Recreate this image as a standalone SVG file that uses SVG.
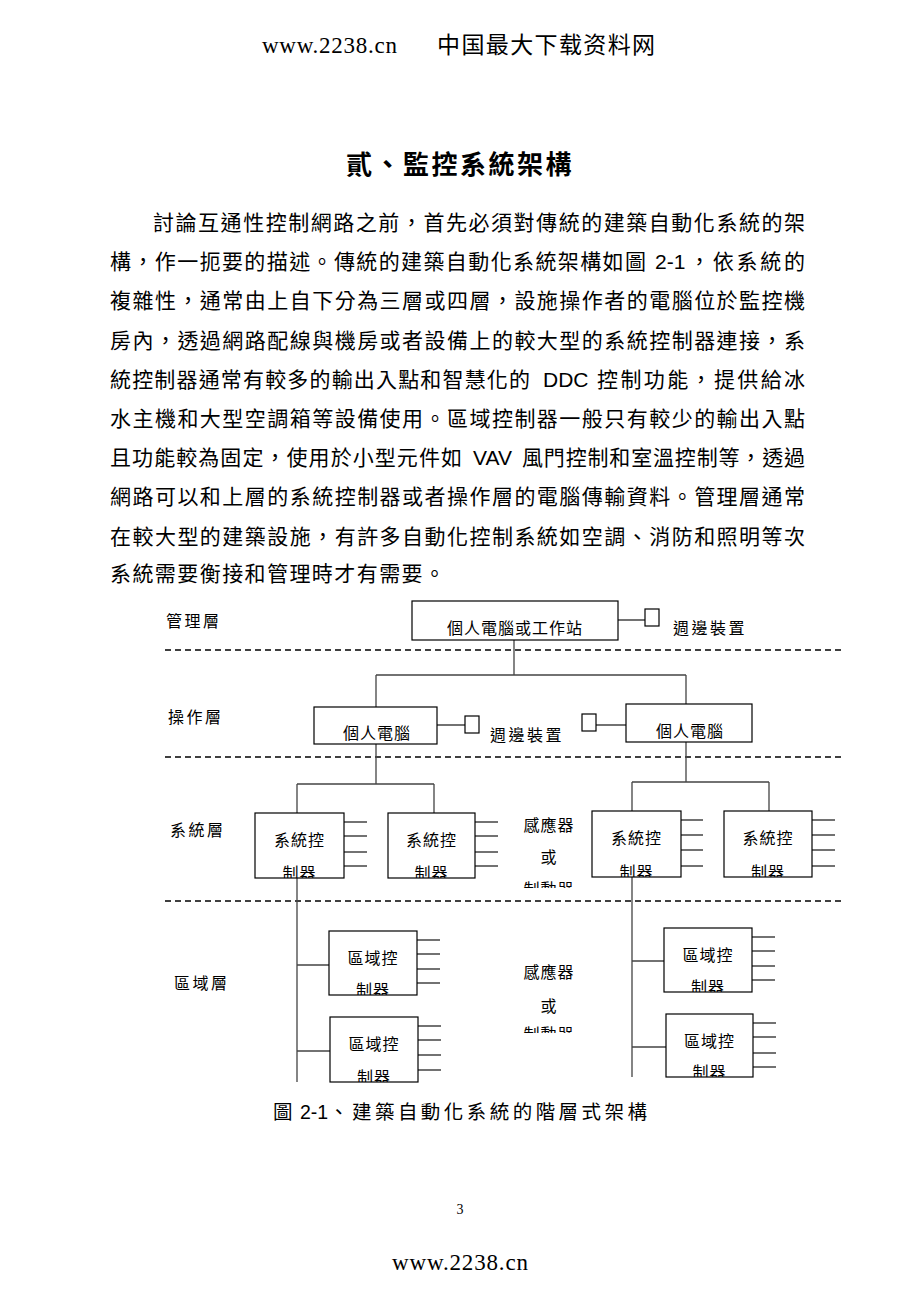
<svg xmlns="http://www.w3.org/2000/svg" width="920" height="1302" viewBox="0 0 920 1302">
<style>
.cjk{font-family:"Liberation Sans","Noto Sans CJK TC","Noto Sans CJK SC",sans-serif;fill:#000}
.p{font-size:21px}
.lbl{font-size:16px;letter-spacing:2.5px}
.bx{font-size:16px;letter-spacing:1px;text-anchor:middle}
.box{fill:#fff;stroke:#000;stroke-width:1.2}
.ln{stroke:#444;stroke-width:1.3;fill:none}
.dash{stroke:#000;stroke-width:1.3;stroke-dasharray:6 4;fill:none}
.sq{fill:#fff;stroke:#000;stroke-width:1.2}
.url{font-family:"Liberation Serif",serif;font-size:23px;fill:#000}
</style>
<rect width="920" height="1302" fill="#fff"/>
<g id="header">
<text x="262" y="53" class="url" textLength="135" lengthAdjust="spacing">www.2238.cn</text>
<text x="437" y="53" font-family="Noto Sans CJK SC,sans-serif" font-size="23" textLength="218" fill="#000">中国最大下载资料网</text>
</g>
<g id="title">
<text x="460" y="174" class="cjk" font-size="26" font-weight="bold" text-anchor="middle" letter-spacing="2.5">貳、監控系統架構</text>
</g>
<g id="paragraph" class="cjk p">
<text x="153" y="230" textLength="652" lengthAdjust="spacing">討論互通性控制網路之前，首先必須對傳統的建築自動化系統的架</text>
<text x="110" y="269.2" textLength="536" lengthAdjust="spacing">構，作一扼要的描述。傳統的建築自動化系統架構如圖</text>
<text x="655" y="269.2">2-1</text>
<text x="689" y="269.2" textLength="116" lengthAdjust="spacing">，依系統的</text>
<text x="110" y="308.4" textLength="695" lengthAdjust="spacing">複雜性，通常由上自下分為三層或四層，設施操作者的電腦位於監控機</text>
<text x="110" y="347.6" textLength="695" lengthAdjust="spacing">房內，透過網路配線與機房或者設備上的較大型的系統控制器連接，系</text>
<text x="110" y="386.8" textLength="420" lengthAdjust="spacing">統控制器通常有較多的輸出入點和智慧化的</text>
<text x="543" y="386.8">DDC</text>
<text x="597" y="386.8" textLength="208" lengthAdjust="spacing">控制功能，提供給冰</text>
<text x="110" y="426" textLength="695" lengthAdjust="spacing">水主機和大型空調箱等設備使用。區域控制器一般只有較少的輸出入點</text>
<text x="110" y="465.2" textLength="352" lengthAdjust="spacing">且功能較為固定，使用於小型元件如</text>
<text x="473" y="465.2">VAV</text>
<text x="522" y="465.2" textLength="283" lengthAdjust="spacing">風門控制和室溫控制等，透過</text>
<text x="110" y="504.4" textLength="695" lengthAdjust="spacing">網路可以和上層的系統控制器或者操作層的電腦傳輸資料。管理層通常</text>
<text x="110" y="543.6" textLength="695" lengthAdjust="spacing">在較大型的建築設施，有許多自動化控制系統如空調、消防和照明等次</text>
<text x="110" y="581" textLength="335" lengthAdjust="spacing">系統需要衡接和管理時才有需要。</text>
</g>
<g id="layers" class="cjk lbl">
<text x="166" y="627">管理層</text>
<text x="168" y="723">操作層</text>
<text x="170" y="836">系統層</text>
<text x="174" y="989">區域層</text>
</g>
<g id="dividers">
<line class="dash" x1="165" y1="650" x2="842" y2="650"/>
<line class="dash" x1="165" y1="757" x2="842" y2="757"/>
<line class="dash" x1="165" y1="901" x2="842" y2="901"/>
</g>
<g id="connectors">
<path class="ln" d="M618 620H645 M514 640V675 M376 675H686 M376 675V707 M686 675V704"/>
<path class="ln" d="M437 725H465 M596 725H626"/>
<path class="ln" d="M376 744V784 M297 784H434 M297 784V813 M434 784V813"/>
<path class="ln" d="M686 742V782 M632 782H769 M632 782V811 M769 782V811"/>
<path class="ln" d="M344 822H367 M344 836H367 M344 852H367 M344 866H367"/>
<path class="ln" d="M475 822H498 M475 836H498 M475 852H498 M475 866H498"/>
<path class="ln" d="M681 820H703 M681 835H703 M681 850H703 M681 866H703"/>
<path class="ln" d="M812 820H835 M812 835H835 M812 850H835 M812 866H835"/>
<path class="ln" d="M297 878V1082 M632 877V1077"/>
<path class="ln" d="M297 965H329 M297 1051H330 M632 961H664 M632 1047H666"/>
<path class="ln" d="M417 940H440 M417 954H440 M417 969H440 M417 983H440"/>
<path class="ln" d="M418 1026H441 M418 1040H441 M418 1055H441 M418 1070H441"/>
<path class="ln" d="M752 937H775 M752 951H775 M752 966H775 M752 980H775"/>
<path class="ln" d="M753 1023H776 M753 1037H776 M753 1053H776 M753 1067H776"/>
</g>
<g id="ws">
<rect class="box" x="412" y="601" width="206" height="39"/>
<text class="cjk bx" x="515" y="634" letter-spacing="2.5">個人電腦或工作站</text>
</g>
<g id="periph1">
<rect class="sq" x="645" y="609" width="14" height="17"/>
<text class="cjk lbl" x="673" y="634">週邊裝置</text>
</g>
<g id="pc1">
<rect class="box" x="314" y="707" width="123" height="37"/>
<text class="cjk bx" x="377" y="739" letter-spacing="2.5">個人電腦</text>
</g>
<g id="periph2">
<rect class="sq" x="465" y="716" width="14" height="17"/>
<text class="cjk lbl" x="490" y="741">週邊裝置</text>
</g>
<g id="periph3">
<rect class="sq" x="582" y="714" width="14" height="17"/>
</g>
<g id="pc2">
<rect class="box" x="626" y="704" width="126" height="38"/>
<text class="cjk bx" x="690" y="737" letter-spacing="2.5">個人電腦</text>
</g>
<g id="sc1">
<rect class="box" x="255" y="813" width="89" height="65"/>
<svg x="255" y="813" width="89" height="65" overflow="hidden">
<text class="cjk bx" x="44.5" y="33">系統控</text>
<text class="cjk bx" x="44.5" y="66">制器</text>
</svg>
</g>
<g id="sc2">
<rect class="box" x="388" y="813" width="87" height="65"/>
<svg x="388" y="813" width="87" height="65" overflow="hidden">
<text class="cjk bx" x="43.5" y="33">系統控</text>
<text class="cjk bx" x="43.5" y="66">制器</text>
</svg>
</g>
<g id="sc3">
<rect class="box" x="592" y="811" width="89" height="66"/>
<svg x="592" y="811" width="89" height="66" overflow="hidden">
<text class="cjk bx" x="44.5" y="33">系統控</text>
<text class="cjk bx" x="44.5" y="67">制器</text>
</svg>
</g>
<g id="sc4">
<rect class="box" x="724" y="811" width="88" height="66"/>
<svg x="724" y="811" width="88" height="66" overflow="hidden">
<text class="cjk bx" x="44" y="33">系統控</text>
<text class="cjk bx" x="44" y="67">制器</text>
</svg>
</g>
<g id="sensor1">
<svg x="500" y="800" width="100" height="88" overflow="hidden">
<text class="cjk bx" x="49" y="31">感應器</text>
<text class="cjk bx" x="49" y="63">或</text>
<text class="cjk bx" x="49" y="95">制動器</text>
</svg>
</g>
<g id="zc1">
<rect class="box" x="329" y="931" width="88" height="64"/>
<svg x="329" y="931" width="88" height="64" overflow="hidden">
<text class="cjk bx" x="44" y="33">區域控</text>
<text class="cjk bx" x="44" y="65">制器</text>
</svg>
</g>
<g id="zc2">
<rect class="box" x="330" y="1017" width="88" height="65"/>
<svg x="330" y="1017" width="88" height="65" overflow="hidden">
<text class="cjk bx" x="44" y="33">區域控</text>
<text class="cjk bx" x="44" y="66">制器</text>
</svg>
</g>
<g id="zc3">
<rect class="box" x="664" y="928" width="88" height="64"/>
<svg x="664" y="928" width="88" height="64" overflow="hidden">
<text class="cjk bx" x="44" y="33">區域控</text>
<text class="cjk bx" x="44" y="65">制器</text>
</svg>
</g>
<g id="zc4">
<rect class="box" x="666" y="1014" width="87" height="63"/>
<svg x="666" y="1014" width="87" height="63" overflow="hidden">
<text class="cjk bx" x="43.5" y="33">區域控</text>
<text class="cjk bx" x="43.5" y="64">制器</text>
</svg>
</g>
<g id="sensor2">
<svg x="500" y="950" width="100" height="83" overflow="hidden">
<text class="cjk bx" x="49" y="28">感應器</text>
<text class="cjk bx" x="49" y="62">或</text>
<text class="cjk bx" x="49" y="90">制動器</text>
</svg>
</g>
<g id="caption" class="cjk" font-size="19.5">
<text x="273" y="1119">圖</text>
<text x="300" y="1119">2-1</text>
<text x="329" y="1119" textLength="318" lengthAdjust="spacing">、建築自動化系統的階層式架構</text>
</g>
<g id="footer">
<text x="460" y="1214" font-family="Liberation Serif,serif" font-size="14" text-anchor="middle" fill="#000">3</text>
<text x="392" y="1270" class="url" textLength="136" lengthAdjust="spacing">www.2238.cn</text>
</g>
</svg>
